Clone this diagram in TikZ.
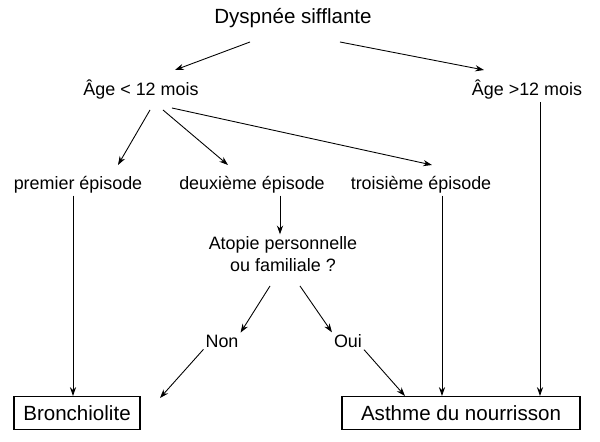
\documentclass[tikz,border=0pt]{standalone}
\usepackage{fontspec}
\setmainfont{Liberation Sans}
\usetikzlibrary{arrows.meta}
\begin{document}
\begin{tikzpicture}[x=0.02cm,y=-0.02cm,
  lbl/.style={font=\fontsize{10.2}{12.5}\selectfont,inner sep=1pt,align=center},
  big/.style={font=\fontsize{11.7}{14}\selectfont},
  boxed/.style={draw,line width=0.6pt,font=\fontsize{11.7}{14}\selectfont,inner sep=0pt,minimum height=33*0.02cm},
  arr/.style={-{Stealth[length=5pt,width=3.5pt]},line width=0.5pt}]
\useasboundingbox (0,0) rectangle (600,442);
\node[big] (d) at (293,18) {Dyspnée sifflante};
\node[lbl] (a1) at (141,90) {Âge < 12 mois};
\node[lbl] (a2) at (527,90) {Âge >12 mois};
\node[lbl] (p1) at (78,185) {premier épisode};
\node[lbl] (p2) at (252,185) {deuxième épisode};
\node[lbl] (p3) at (421,185) {troisième épisode};
\node[lbl] (at) at (283,254) {Atopie personnelle\\ou familiale ?};
\node[lbl] (non) at (222,341) {Non};
\node[lbl] (oui) at (348,341) {Oui};
\node[boxed,minimum width=126*0.02cm] (b) at (77,413) {Bronchiolite};
\node[boxed,minimum width=238*0.02cm] (as) at (461,413) {Asthme du nourrisson};
\coordinate (d1) at (250,42); \coordinate (d2) at (340,42);
\draw[arr] (d1) -- (175,70);
\draw[arr] (d2) -- (484,70);
\coordinate (a1s) at (150,110);\coordinate (a1t) at (163,110);\coordinate (a1u) at (172,108);
\draw[arr] (a1s) -- (118,165);
\draw[arr] (a1t) -- (228,165);
\draw[arr] (a1u) -- (432,165);
\draw[arr] (a2.south -| 540,0) -- (as.north -| 540,0);
\draw[arr] (p1.south -| 73,0) -- (b.north -| 73,0);
\draw[arr] (p3.south -| 442,0) -- (as.north -| 442,0);
\draw[arr] (p2.south -| 280,0) -- (at.north -| 280,0);
\draw[arr] (270,286) -- (non.north east);
\draw[arr] (300,286) -- (oui.north west);
\draw[arr] (non.south west) -- (160,398);
\draw[arr] (oui.south east) -- (405,396);
\end{tikzpicture}
\end{document}
